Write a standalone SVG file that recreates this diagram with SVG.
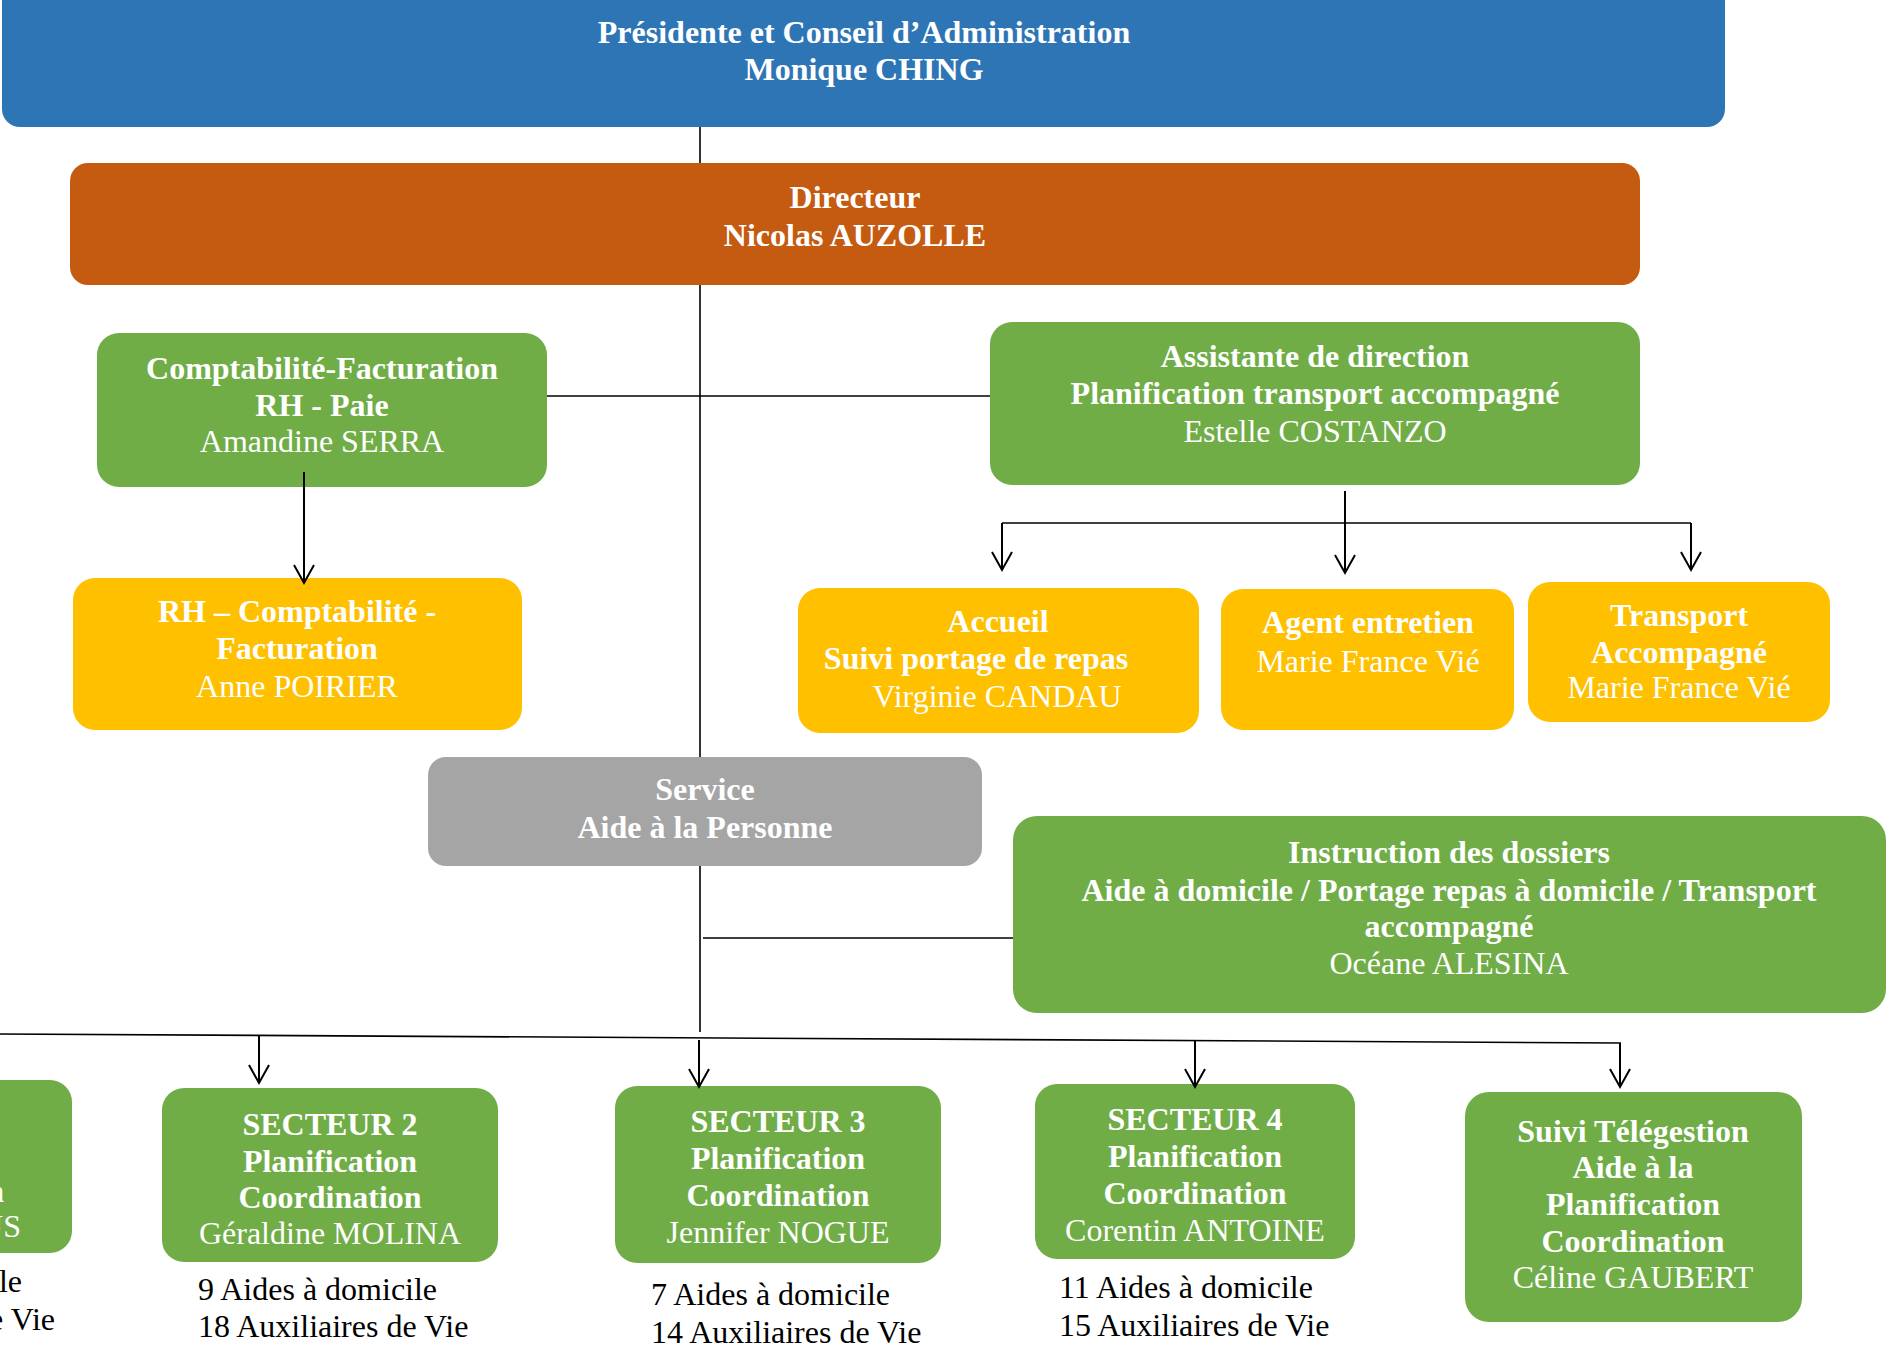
<svg xmlns="http://www.w3.org/2000/svg" width="1887" height="1351" viewBox="0 0 1887 1351">
<defs>
<style>
.t{font-family:"Liberation Serif","Times New Roman",serif;font-size:32px;fill:#ffffff;text-anchor:middle}
.b{font-weight:bold}
.k{font-family:"Liberation Serif","Times New Roman",serif;font-size:32px;fill:#000000}
.ln{stroke:#000;stroke-width:1.6;fill:none}
.ar{stroke:#000;stroke-width:2;fill:none;marker-end:url(#ah)}
.blue{fill:#2E75B6}
.orange{fill:#C55A11}
.green{fill:#70AD47}
.yellow{fill:#FFC000}
.gray{fill:#A5A5A5}
</style>
<marker id="ah" viewBox="0 0 20 20" refX="18" refY="10" markerWidth="20" markerHeight="20" markerUnits="userSpaceOnUse" orient="auto" overflow="visible">
<path d="M0,0 L18,10 L0,20" fill="none" stroke="#000" stroke-width="2"/>
</marker>
</defs>
<rect width="1887" height="1351" fill="#ffffff"/>

<g id="nodes">
<g id="presidente">
<rect class="blue" x="2" y="-20" width="1723" height="147" rx="18"/>
<text class="t b" x="864" y="43">Présidente et Conseil d’Administration</text>
<text class="t b" x="864" y="80">Monique CHING</text>
</g>
<g id="directeur">
<rect class="orange" x="70" y="163" width="1570" height="122" rx="18"/>
<text class="t b" x="855" y="208">Directeur</text>
<text class="t b" x="855" y="246">Nicolas AUZOLLE</text>
</g>
<g id="comptabilite">
<rect class="green" x="97" y="333" width="450" height="154" rx="22"/>
<text class="t b" x="322" y="379">Comptabilité-Facturation</text>
<text class="t b" x="322" y="416">RH - Paie</text>
<text class="t" x="322" y="452">Amandine SERRA</text>
</g>
<g id="rh">
<rect class="yellow" x="73" y="578" width="449" height="152" rx="22"/>
<text class="t b" x="297" y="622">RH – Comptabilité -</text>
<text class="t b" x="297" y="659">Facturation</text>
<text class="t" x="297" y="697">Anne POIRIER</text>
</g>
<g id="assistante">
<rect class="green" x="990" y="322" width="650" height="163" rx="22"/>
<text class="t b" x="1315" y="367">Assistante de direction</text>
<text class="t b" x="1315" y="404">Planification transport accompagné</text>
<text class="t" x="1315" y="442">Estelle COSTANZO</text>
</g>
<g id="accueil">
<rect class="yellow" x="798" y="588" width="401" height="145" rx="22"/>
<text class="t b" x="998" y="632">Accueil</text>
<text class="t b" x="976" y="669">Suivi portage de repas</text>
<text class="t" x="997" y="707">Virginie CANDAU</text>
</g>
<g id="agent">
<rect class="yellow" x="1221" y="589" width="293" height="141" rx="22"/>
<text class="t b" x="1368" y="633">Agent entretien</text>
<text class="t" x="1368" y="672">Marie France Vié</text>
</g>
<g id="transport">
<rect class="yellow" x="1528" y="582" width="302" height="140" rx="22"/>
<text class="t b" x="1679" y="626">Transport</text>
<text class="t b" x="1679" y="663">Accompagné</text>
<text class="t" x="1679" y="698">Marie France Vié</text>
</g>
<g id="service">
<rect class="gray" x="428" y="757" width="554" height="109" rx="18"/>
<text class="t b" x="705" y="800">Service</text>
<text class="t b" x="705" y="838">Aide à la Personne</text>
</g>
<g id="instruction">
<rect class="green" x="1013" y="816" width="873" height="197" rx="24"/>
<text class="t b" x="1449" y="863">Instruction des dossiers</text>
<text class="t b" x="1449" y="901">Aide à domicile / Portage repas à domicile / Transport</text>
<text class="t b" x="1449" y="937">accompagné</text>
<text class="t" x="1449" y="974">Océane ALESINA</text>
</g>
<g id="secteur1">
<rect class="green" x="-280" y="1080" width="352" height="173" rx="22"/>
<text class="t b" x="4" y="1202" style="text-anchor:end">Coordination</text>
<text class="t" x="21" y="1237" style="text-anchor:end">US</text>
<text class="k" x="22" y="1292" style="text-anchor:end">Aides à domicile</text>
<text class="k" x="55" y="1330" style="text-anchor:end">Auxiliaires de Vie</text>
</g>
<g id="secteur2">
<rect class="green" x="162" y="1088" width="336" height="174" rx="22"/>
<text class="t b" x="330" y="1135">SECTEUR 2</text>
<text class="t b" x="330" y="1172">Planification</text>
<text class="t b" x="330" y="1208">Coordination</text>
<text class="t" x="330" y="1244">Géraldine MOLINA</text>
<text class="k" x="198" y="1300">9 Aides à domicile</text>
<text class="k" x="198" y="1337">18 Auxiliaires de Vie</text>
</g>
<g id="secteur3">
<rect class="green" x="615" y="1086" width="326" height="177" rx="22"/>
<text class="t b" x="778" y="1132">SECTEUR 3</text>
<text class="t b" x="778" y="1169">Planification</text>
<text class="t b" x="778" y="1206">Coordination</text>
<text class="t" x="778" y="1243">Jennifer NOGUE</text>
<text class="k" x="651" y="1305">7 Aides à domicile</text>
<text class="k" x="651" y="1343">14 Auxiliaires de Vie</text>
</g>
<g id="secteur4">
<rect class="green" x="1035" y="1084" width="320" height="175" rx="22"/>
<text class="t b" x="1195" y="1130">SECTEUR 4</text>
<text class="t b" x="1195" y="1167">Planification</text>
<text class="t b" x="1195" y="1204">Coordination</text>
<text class="t" x="1195" y="1241">Corentin ANTOINE</text>
<text class="k" x="1059" y="1298">11 Aides à domicile</text>
<text class="k" x="1059" y="1336">15 Auxiliaires de Vie</text>
</g>
<g id="telegestion">
<rect class="green" x="1465" y="1092" width="337" height="230" rx="24"/>
<text class="t b" x="1633" y="1142">Suivi Télégestion</text>
<text class="t b" x="1633" y="1178">Aide à la</text>
<text class="t b" x="1633" y="1215">Planification</text>
<text class="t b" x="1633" y="1252">Coordination</text>
<text class="t" x="1633" y="1288">Céline GAUBERT</text>
</g>
</g>

<g id="connectors">
<line class="ln" x1="700" y1="127" x2="700" y2="163"/>
<line class="ln" x1="700" y1="285" x2="700" y2="757"/>
<line class="ln" x1="700" y1="866" x2="700" y2="1032"/>
<line class="ln" x1="547" y1="396" x2="990" y2="396"/>
<line class="ar" x1="304" y1="472" x2="304" y2="583"/>
<line class="ar" x1="1345" y1="491" x2="1345" y2="573"/>
<polyline class="ln" points="1002,523 1691,523"/>
<line class="ar" x1="1002" y1="523" x2="1002" y2="570"/>
<line class="ar" x1="1691" y1="523" x2="1691" y2="570"/>
<line class="ln" x1="703" y1="938" x2="1013" y2="938"/>
<line class="ln" x1="0" y1="1034" x2="1621" y2="1043"/>
<line class="ar" x1="259" y1="1036" x2="259" y2="1083"/>
<line class="ar" x1="699" y1="1040" x2="699" y2="1087"/>
<line class="ar" x1="1195" y1="1040" x2="1195" y2="1087"/>
<line class="ar" x1="1620" y1="1043" x2="1620" y2="1087"/>
</g>
</svg>
